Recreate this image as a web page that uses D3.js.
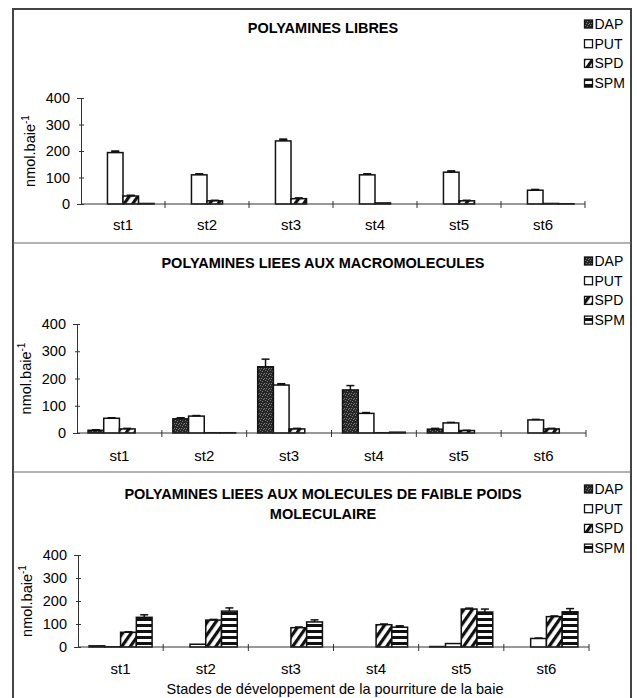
<!DOCTYPE html>
<html>
<head>
<meta charset="utf-8">
<script src="https://cdn.jsdelivr.net/npm/d3@7"></script>
<style>
  html, body { margin: 0; padding: 0; background: #fff; }
  svg { display: block; font-family: Arial, "Liberation Sans", sans-serif; }
</style>
</head>
<body>
<svg id="chart" width="637" height="698"></svg>
<script>
// Stages and polyamine series
const categories = ["st1", "st2", "st3", "st4", "st5", "st6"];
const seriesNames = ["DAP", "PUT", "SPD", "SPM"];
const yTicks = [0, 100, 200, 300, 400];

// Free polyamines (nmol per berry)
const libresDAP = [0, 0, 0, 0, 0, 0];
const libresPUT = [194, 110, 238, 110, 120, 52];
const libresSPD = [30, 12, 20, 4, 12, 2];
const libresSPM = [2, 0, 0, 0, 0, 1];
const libresErrDAP = [0, 0, 0, 0, 0, 0];
const libresErrPUT = [6, 4, 7, 4, 5, 3];
const libresErrSPD = [3, 2, 3, 0, 2, 0];
const libresErrSPM = [0, 0, 0, 0, 0, 0];

// Polyamines bound to macromolecules
const macroDAP = [10, 52, 243, 158, 14, 0];
const macroPUT = [54, 62, 176, 72, 37, 48];
const macroSPD = [15, 1, 15, 1, 9, 15];
const macroSPM = [0, 1, 0, 3, 0, 0];
const macroErrDAP = [2, 4, 28, 16, 3, 0];
const macroErrPUT = [2, 2, 5, 3, 2, 2];
const macroErrSPD = [2, 0, 2, 0, 1, 2];
const macroErrSPM = [0, 0, 0, 0, 0, 0];

// Polyamines bound to low molecular weight molecules
const faibleDAP = [5, 0, 0, 0, 2, 0];
const faiblePUT = [1, 12, 0, 0, 15, 37];
const faibleSPD = [64, 117, 84, 97, 165, 132];
const faibleSPM = [129, 156, 109, 86, 152, 153];
const faibleErrDAP = [0, 0, 0, 0, 0, 0];
const faibleErrPUT = [0, 0, 0, 0, 0, 2];
const faibleErrSPD = [2, 3, 3, 3, 4, 3];
const faibleErrSPM = [11, 14, 9, 6, 13, 14];

const panels = [
  { title: ["POLYAMINES LIBRES"],
    values: [libresDAP, libresPUT, libresSPD, libresSPM],
    errors: [libresErrDAP, libresErrPUT, libresErrSPD, libresErrSPM],
    x: [81, 585], y: [204, 98], titleY: 33, legendY: 24, stY: 230, yTitleX: 35 },
  { title: ["POLYAMINES LIEES AUX MACROMOLECULES"],
    values: [macroDAP, macroPUT, macroSPD, macroSPM],
    errors: [macroErrDAP, macroErrPUT, macroErrSPD, macroErrSPM],
    x: [77, 586], y: [433, 324], titleY: 268, legendY: 261, stY: 461, yTitleX: 31 },
  { title: ["POLYAMINES LIEES AUX MOLECULES DE FAIBLE POIDS", "MOLECULAIRE"],
    values: [faibleDAP, faiblePUT, faibleSPD, faibleSPM],
    errors: [faibleErrDAP, faibleErrPUT, faibleErrSPD, faibleErrSPM],
    x: [78, 589], y: [647, 555], titleY: 499, legendY: 489, stY: 674, yTitleX: 32 }
];

const svg = d3.select("#chart");
const defs = svg.append("defs");

// Stippled dark fill for DAP
const dap = defs.append("pattern").attr("id", "pDAP").attr("patternUnits", "userSpaceOnUse")
  .attr("width", 5).attr("height", 5);
dap.append("rect").attr("width", 5).attr("height", 5).attr("fill", "#262626");
[[0, 0], [2, 1], [4, 3], [1, 3], [3, 4]].forEach(([px, py]) =>
  dap.append("rect").attr("x", px).attr("y", py).attr("width", 1).attr("height", 1).attr("fill", "#7a7a7a"));

// Diagonal stripes for SPD
const spd = defs.append("pattern").attr("id", "pSPD").attr("patternUnits", "userSpaceOnUse")
  .attr("width", 7).attr("height", 7).attr("patternTransform", "rotate(35)");
spd.append("rect").attr("width", 7).attr("height", 7).attr("fill", "#fff");
spd.append("rect").attr("width", 3.2).attr("height", 7).attr("fill", "#111");

// Horizontal stripes for SPM
const spm = defs.append("pattern").attr("id", "pSPM").attr("patternUnits", "userSpaceOnUse")
  .attr("width", 6).attr("height", 6);
spm.append("rect").attr("width", 6).attr("height", 6).attr("fill", "#fff");
spm.append("rect").attr("y", 0).attr("width", 6).attr("height", 3).attr("fill", "#111");

const fills = { DAP: "url(#pDAP)", PUT: "#fff", SPD: "url(#pSPD)", SPM: "url(#pSPM)" };

// Outer frame and panel separators
svg.append("path").attr("d", "M13,698 V9 H631 V698").attr("fill", "none")
  .attr("stroke", "#444").attr("stroke-width", 2);
[243, 472].forEach(yy =>
  svg.append("line").attr("x1", 13).attr("x2", 631).attr("y1", yy).attr("y2", yy)
    .attr("stroke", "#666").attr("stroke-width", 1.2));

panels.forEach(p => {
  const g = svg.append("g");
  const x = d3.scaleBand().domain(categories).range(p.x).paddingInner(0).paddingOuter(0);
  const bw = x.bandwidth();
  const gap = bw * 0.13;
  const xs = d3.scaleBand().domain(seriesNames).range([gap, bw - gap]);
  const y = d3.scaleLinear().domain([0, 400]).range(p.y);

  // Title
  p.title.forEach((t, i) =>
    g.append("text").attr("x", 323).attr("y", p.titleY + i * 20).attr("text-anchor", "middle")
      .attr("font-size", 14.5).attr("font-weight", "bold").attr("fill", "#000").text(t));

  // Bars
  seriesNames.forEach((s, si) => {
    const vals = p.values[si];
    g.append("g").selectAll("rect").data(categories).join("rect")
      .attr("x", c => x(c) + xs(s))
      .attr("y", (c, i) => y(vals[i]))
      .attr("width", xs.bandwidth())
      .attr("height", (c, i) => y(0) - y(vals[i]))
      .attr("fill", fills[s])
      .attr("stroke", "#111")
      .attr("stroke-width", (c, i) => vals[i] > 0 ? 1.5 : 1.2);
    // Error bars (upper)
    const errs = p.errors[si];
    const eg = g.append("g").attr("stroke", "#111").attr("stroke-width", 1.5);
    categories.forEach((c, i) => {
      if (!errs[i]) return;
      const cx = x(c) + xs(s) + xs.bandwidth() / 2;
      eg.append("line").attr("x1", cx).attr("x2", cx).attr("y1", y(vals[i])).attr("y2", y(vals[i] + errs[i]));
      eg.append("line").attr("x1", cx - 4).attr("x2", cx + 4).attr("y1", y(vals[i] + errs[i])).attr("y2", y(vals[i] + errs[i]));
      eg.append("rect").attr("x", cx - 4).attr("y", y(vals[i] + errs[i])).attr("width", 8)
        .attr("height", Math.max(0, y(vals[i]) - y(vals[i] + errs[i]))).attr("fill", "#111").attr("stroke", "none")
        .attr("opacity", errs[i] < 8 ? 1 : 0);
    });
  });

  // Y axis
  const yAxis = d3.axisLeft(y).tickValues(yTicks).tickSize(4).tickPadding(7);
  const ya = g.append("g").attr("transform", `translate(${p.x[0]},0)`).call(yAxis);
  ya.select(".domain").attr("stroke", "#333").attr("stroke-width", 1);
  ya.selectAll(".tick line").attr("stroke", "#333").attr("x2", 3).attr("x1", -2);
  ya.selectAll(".tick text").attr("font-size", 14.5).attr("fill", "#000")
    .attr("font-family", "Arial, 'Liberation Sans', sans-serif");

  // X axis with category boundary ticks
  g.append("line").attr("x1", p.x[0]).attr("x2", p.x[1]).attr("y1", y(0)).attr("y2", y(0))
    .attr("stroke", "#333").attr("stroke-width", 1);
  g.append("g").selectAll("line").data(categories).join("line")
    .attr("x1", c => x(c) + bw).attr("x2", c => x(c) + bw)
    .attr("y1", y(0) - 3).attr("y2", y(0) + 4).attr("stroke", "#333");
  g.append("g").selectAll("text").data(categories).join("text")
    .attr("x", c => x(c) + bw / 2).attr("y", p.stY).attr("text-anchor", "middle")
    .attr("font-size", 15).attr("fill", "#000").text(c => c);

  // Y axis title
  const yt = g.append("text")
    .attr("transform", `translate(${p.yTitleX},${(p.y[0] + p.y[1]) / 2}) rotate(-90)`)
    .attr("text-anchor", "middle").attr("font-size", 14.5).attr("fill", "#000");
  yt.append("tspan").text("nmol.baie");
  yt.append("tspan").attr("dy", -6).attr("font-size", 10).text("-1");

  // Legend
  seriesNames.forEach((s, i) => {
    const ly = p.legendY + i * 19.7;
    g.append("rect").attr("x", 584.5).attr("y", ly - 4).attr("width", 8).attr("height", 8)
      .attr("fill", fills[s]).attr("stroke", "#111").attr("stroke-width", 1.3);
    g.append("text").attr("x", 594.5).attr("y", ly + 5).attr("font-size", 14)
      .attr("fill", "#000").text(s);
  });
});

// X axis title
svg.append("text").attr("x", 335).attr("y", 694).attr("text-anchor", "middle")
  .attr("font-size", 14.5).attr("fill", "#000")
  .text("Stades de développement de la pourriture de la baie");
</script>
</body>
</html>
